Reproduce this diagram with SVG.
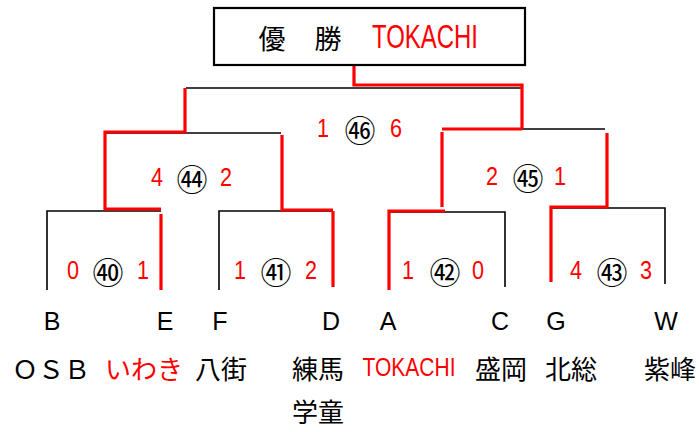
<svg xmlns="http://www.w3.org/2000/svg" width="699" height="432" viewBox="0 0 699 432">
<style>
.bk{stroke:#000;stroke-width:1.6;fill:none}
.rd{stroke:#ff0000;stroke-width:3.2;fill:none}
.jp{font-family:"Noto Sans CJK JP","Liberation Sans",sans-serif;dominant-baseline:central;text-anchor:middle}
.lat{font-family:"Liberation Sans","Noto Sans CJK JP",sans-serif;dominant-baseline:central;text-anchor:middle}
.sc{font-family:"Liberation Sans",sans-serif;font-size:25px;fill:#ff0000;dominant-baseline:central;text-anchor:middle}
.cn{font-family:"Noto Sans CJK JP",sans-serif;font-size:31px;fill:#000;dominant-baseline:central;text-anchor:middle}
.red{fill:#ff0000}
</style>
<rect width="699" height="432" fill="#fff"/>
<g id="connectors">
  <path class="bk" d="M186,88H523"/>
  <path class="bk" d="M105,133H281"/>
  <path class="bk" d="M442,129H605"/>
  <path class="bk" d="M47,290V211H161"/>
  <path class="bk" d="M219,290V211H333"/>
  <path class="bk" d="M389,212H505V287"/>
  <path class="bk" d="M551,208H665V284"/>
  <path class="rd" d="M354,65V85H522V129"/>
  <path class="rd" d="M185,88V132H105V209H161"/>
  <path class="rd" d="M161,214V290"/>
  <path class="rd" d="M282,135V210H333"/>
  <path class="rd" d="M333,211V287"/>
  <path class="rd" d="M442,129H522"/>
  <path class="rd" d="M442,132V207"/>
  <path class="rd" d="M389,290V211H445"/>
  <path class="rd" d="M607,133V207H551V282"/>
</g>
<g id="champion">
  <rect x="214" y="8" width="311" height="57" fill="#fff" stroke="#000" stroke-width="2.2"/>
  <text class="jp" x="272" y="37" font-size="27">優</text>
  <text class="jp" x="328" y="37" font-size="27">勝</text>
  <text class="lat red" x="425" y="36" font-size="34" textLength="106" lengthAdjust="spacingAndGlyphs">TOKACHI</text>
</g>
<g id="m46"><text class="sc" x="323" y="128" textLength="12" lengthAdjust="spacingAndGlyphs">1</text><text class="cn" x="360" y="128">㊻</text><text class="sc" x="396" y="128" textLength="12" lengthAdjust="spacingAndGlyphs">6</text></g>
<g id="m44"><text class="sc" x="157" y="177" textLength="12" lengthAdjust="spacingAndGlyphs">4</text><text class="cn" x="192" y="177">㊹</text><text class="sc" x="226" y="177" textLength="12" lengthAdjust="spacingAndGlyphs">2</text></g>
<g id="m45"><text class="sc" x="492" y="176" textLength="12" lengthAdjust="spacingAndGlyphs">2</text><text class="cn" x="528" y="176">㊺</text><text class="sc" x="560" y="176" textLength="12" lengthAdjust="spacingAndGlyphs">1</text></g>
<g id="m40"><text class="sc" x="73" y="270" textLength="12" lengthAdjust="spacingAndGlyphs">0</text><text class="cn" x="108" y="270">㊵</text><text class="sc" x="143" y="270" textLength="12" lengthAdjust="spacingAndGlyphs">1</text></g>
<g id="m41"><text class="sc" x="240" y="270" textLength="12" lengthAdjust="spacingAndGlyphs">1</text><text class="cn" x="276" y="270">㊶</text><text class="sc" x="311" y="270" textLength="12" lengthAdjust="spacingAndGlyphs">2</text></g>
<g id="m42"><text class="sc" x="408" y="270" textLength="12" lengthAdjust="spacingAndGlyphs">1</text><text class="cn" x="445" y="270">㊷</text><text class="sc" x="478" y="270" textLength="12" lengthAdjust="spacingAndGlyphs">0</text></g>
<g id="m43"><text class="sc" x="576" y="270" textLength="12" lengthAdjust="spacingAndGlyphs">4</text><text class="cn" x="612" y="270">㊸</text><text class="sc" x="646" y="270" textLength="12" lengthAdjust="spacingAndGlyphs">3</text></g>
<g id="teamB"><text class="lat" x="52" y="321" font-size="25">B</text><text class="jp" x="51" y="367" font-size="26">ＯＳＢ</text></g>
<g id="teamE"><text class="lat" x="165" y="321" font-size="25">E</text><text class="jp red" x="144" y="367" font-size="26">いわき</text></g>
<g id="teamF"><text class="lat" x="220" y="321" font-size="25">F</text><text class="jp" x="221" y="367" font-size="26">八街</text></g>
<g id="teamD"><text class="lat" x="331" y="321" font-size="25">D</text><text class="jp" x="318" y="367" font-size="26">練馬</text><text class="jp" x="318" y="410" font-size="26">学童</text></g>
<g id="teamA"><text class="lat" x="388" y="321" font-size="25">A</text><text class="lat red" x="409" y="367" font-size="26" textLength="93" lengthAdjust="spacingAndGlyphs">TOKACHI</text></g>
<g id="teamC"><text class="lat" x="500" y="321" font-size="25">C</text><text class="jp" x="501" y="367" font-size="26">盛岡</text></g>
<g id="teamG"><text class="lat" x="556" y="321" font-size="25">G</text><text class="jp" x="571" y="367" font-size="26">北総</text></g>
<g id="teamW"><text class="lat" x="666" y="321" font-size="25">W</text><text class="jp" x="670" y="367" font-size="26">紫峰</text></g>
</svg>
